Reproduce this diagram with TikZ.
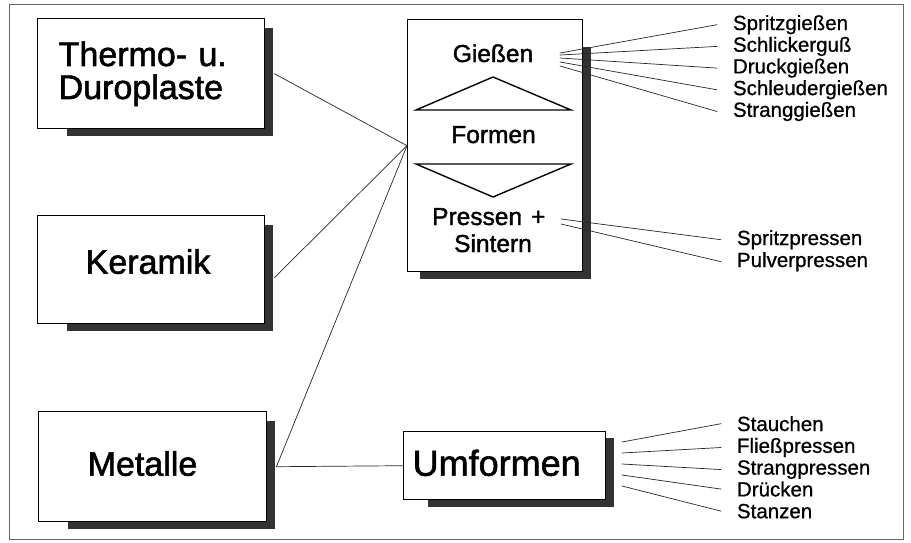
\documentclass[tikz,border=0pt]{standalone}
\usepackage{fontspec}
\setmainfont{Liberation Sans}[FakeBold=0.8]
\newfontfamily\dick{Liberation Sans}[FakeBold=1.6]
\newcommand\schatten[3]{%
	\fill[schattenfarbe]([xshift=#2pt]#1.south west) rectangle ([xshift=8pt,yshift=-7pt]#1.south east);
	\fill[schattenfarbe]([yshift=-#3pt]#1.north east) rectangle ([xshift=8pt,yshift=-7pt]#1.south east);}
\tikzset{
	kasten/.style={rectangle,draw,line width=1.4pt,fill=white,align=left,font=\dick\fontsize{34}{33}\selectfont},
	schattenfarbe/.style={black!80},
	mitte/.style={inner sep=0pt,font=\dick\fontsize{24.5}{27}\selectfont},
	verfahren/.style={anchor=base west,inner sep=0pt,outer xsep=16pt,font=\fontsize{20.5}{22}\selectfont},
	linie/.style={line width=0.7pt,black!85},
	dreieck/.style={line width=1.4pt,line join=miter},
	rahmen/.style={line width=1pt,black!60}
}
\begin{document}
\begin{tikzpicture}[x=1pt,y=-1pt,line cap=round]
	\useasboundingbox (0,0) rectangle (911,542);
	\draw[rahmen] (9,4) rectangle (903,539);
	% Werkstoffe
	\node[kasten,anchor=north west,inner xsep=21pt,text width=185pt,minimum height=110pt]
	(thermo) at (37,18) {Thermo- u.\\Duroplaste};
	\node[kasten,anchor=north west,inner xsep=48pt,text width=131pt,minimum height=108pt,
	text height=24pt,text depth=16pt] (keramik) at (37,215) {Keramik};
	\node[kasten,anchor=north west,inner xsep=49pt,text width=130pt,minimum height=110pt,
	text height=24pt,text depth=6pt] (metalle) at (38,411) {Metalle};
	% Verfahren
	\node[kasten,anchor=north west,minimum width=175pt,minimum height=252pt] (form) at (407,19) {};
	\node[kasten,anchor=north west,inner xsep=9pt,text width=184pt,minimum height=68pt,
	text height=26pt,text depth=6pt,font=\dick\fontsize{36}{40}\selectfont] (umf) at (403,431) {Umformen};
	\schatten{thermo}{30}{10}
	\schatten{keramik}{30}{10}
	\schatten{metalle}{30}{10}
	\schatten{form}{13}{28}
	\schatten{umf}{25}{7}
	% Inhalt des Kastens
	\node[mitte,anchor=base] (giessen) at (493,62) {Gießen};
	\node[mitte,anchor=base] (formen) at (493.5,143) {Formen};
	\node[mitte,anchor=base west] (pressen) at (432,225) {Pressen\hspace{9pt}+};
	\node[mitte,anchor=base] (sintern) at (493,252) {Sintern};
	\draw[dreieck] (416,110)--(493,77)--(571,110)--cycle;
	\draw[dreieck] (416,164)--(493,197)--(571,164)--cycle;
	% Verbindungen
	\draw[linie] ([xshift=9pt]thermo.east)--(form.west);
	\draw[linie] ([xshift=9pt,yshift=-8pt]keramik.east)--(form.west);
	\draw[linie] ([xshift=9pt]metalle.east)--(form.west);
	\draw[linie] ([xshift=9pt]metalle.east)--(umf.west);
	% Giessverfahren
	\foreach \y [count=\i] in {53,55,58,62,66} \coordinate (g\i) at (560,\y);
	\foreach \t [count=\i] in {Spritzgießen,Schlickerguß,Druckgießen,Schleudergießen,Stranggießen}
	\node[verfahren] (s\i) at (717,{30+21.7*(\i-1)}) {\t};
	\foreach \i in {1,...,5} \draw[linie] (g\i)--(s\i.west);
	% Pressverfahren
	\coordinate (p1) at (561,219);
	\coordinate (p2) at (561,224);
	\node[verfahren] (pr1) at (721,245) {Spritzpressen};
	\node[verfahren] (pr2) at (721,267) {Pulverpressen};
	\draw[linie] (p1)--(pr1.west);
	\draw[linie] (p2)--(pr2.west);
	% Umformverfahren
	\foreach \y [count=\i] in {442,453,464,475,486} \coordinate (u\i) at (622,\y);
	\foreach \t [count=\i] in {Stauchen,Fließpressen,Strangpressen,Drücken,Stanzen}
	\node[verfahren] (t\i) at (721,{431+21.8*(\i-1)}) {\t};
	\foreach \i in {1,...,5} \draw[linie] (u\i)--(t\i.west);
\end{tikzpicture}
\end{document}
